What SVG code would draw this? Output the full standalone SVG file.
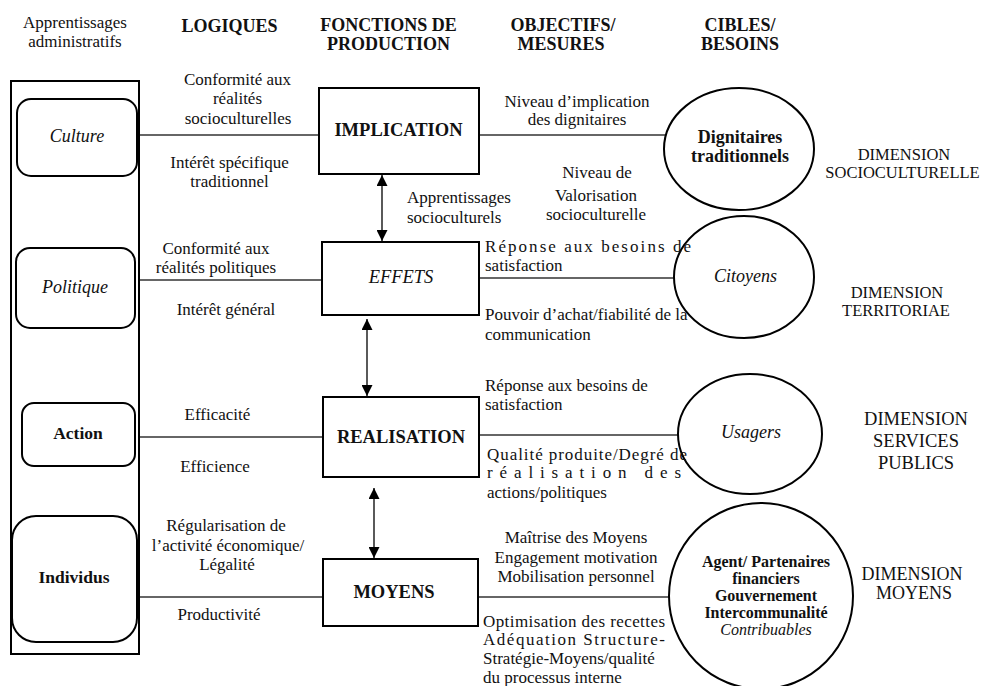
<svg xmlns="http://www.w3.org/2000/svg" width="985" height="686" viewBox="0 0 985 686">
<defs>
<marker id="ah" viewBox="0 0 10 10" refX="10" refY="5" markerWidth="11" markerHeight="11" markerUnits="userSpaceOnUse" orient="auto-start-reverse">
<path d="M0,0 L10,5 L0,10 z" fill="#000"/>
</marker>
<style>
.h{font-size:18px;font-weight:bold;text-anchor:middle;}
.t{font-size:17px;}
.c{text-anchor:middle;}
.b{font-weight:bold;}
.i{font-style:italic;}
.box{fill:#fff;stroke:#000;stroke-width:2;}
.rr{fill:#fff;stroke:#000;stroke-width:2;}
.el{fill:none;stroke:#000;stroke-width:2;}
.ln{stroke:#333;stroke-width:1.3;fill:none;}
.ar{stroke:#000;stroke-width:1.3;fill:none;marker-start:url(#ah);marker-end:url(#ah);}
.lab{font-size:18.5px;text-anchor:middle;}
.dim{text-anchor:middle;}
</style>
</defs>
<rect width="985" height="686" fill="#fff"/>

<g font-family="'Times New Roman', 'Liberation Serif', Tinos, 'DejaVu Serif', serif" fill="#111">
<g id="headers">
<text class="t c" x="75" y="28">Apprentissages</text>
<text class="t c" x="75" y="47">administratifs</text>
<text class="h" x="229.5" y="32">LOGIQUES</text>
<text class="h" x="388.5" y="31">FONCTIONS DE</text>
<text class="h" x="388.5" y="50">PRODUCTION</text>
<text class="h" x="563" y="31">OBJECTIFS/</text>
<text class="h" x="561" y="50">MESURES</text>
<text class="h" x="740" y="31">CIBLES/</text>
<text class="h" x="740" y="50">BESOINS</text>
</g>

<g id="connectors">
<line class="ln" x1="139" y1="135" x2="319" y2="135"/>
<line class="ln" x1="479" y1="135" x2="666" y2="135"/>
<line class="ln" x1="135" y1="280" x2="322" y2="280"/>
<line class="ln" x1="479" y1="278" x2="675" y2="278"/>
<line class="ln" x1="135" y1="437" x2="323" y2="437"/>
<line class="ln" x1="479" y1="435" x2="678" y2="435"/>
<line class="ln" x1="137" y1="597" x2="323" y2="597"/>
<line class="ln" x1="478" y1="597" x2="670" y2="597"/>
<line class="ar" x1="382" y1="175" x2="382" y2="241"/>
<line class="ar" x1="367" y1="319" x2="367" y2="396"/>
<line class="ar" x1="374" y1="488" x2="374" y2="558"/>
</g>

<g id="admin-frame">
<rect x="11" y="81" width="128" height="573" fill="#fff" stroke="#000" stroke-width="2"/>
</g>
<g id="culture">
<rect class="rr" x="17" y="99" width="120" height="77" rx="14"/>
<text class="i c" x="77" y="142" font-size="18">Culture</text>
</g>
<g id="politique">
<rect class="rr" x="16" y="248" width="119" height="80" rx="14"/>
<text class="i c" x="75" y="293" font-size="18">Politique</text>
</g>
<g id="action">
<rect class="rr" x="22" y="403" width="113" height="63" rx="12"/>
<text class="b c" x="78" y="439" font-size="17.5">Action</text>
</g>
<g id="individus">
<rect class="rr" x="12" y="516" width="125" height="126" rx="24"/>
<text class="b c" x="74" y="583" font-size="17.5">Individus</text>
</g>

<g id="implication">
<rect class="box" x="319" y="88" width="160" height="86"/>
<text class="lab b" x="398.5" y="136">IMPLICATION</text>
</g>
<g id="effets">
<rect class="box" x="322" y="242" width="157" height="73"/>
<text class="lab i" x="401" y="283">EFFETS</text>
</g>
<g id="realisation">
<rect class="box" x="323" y="397" width="156" height="80"/>
<text class="lab b" x="401" y="443">REALISATION</text>
</g>
<g id="moyens">
<rect class="box" x="323" y="559" width="155" height="67"/>
<text class="lab b" x="394" y="598">MOYENS</text>
</g>

<g id="dignitaires">
<ellipse class="el" cx="739" cy="149" rx="75" ry="61"/>
<text class="b c" x="740" y="143" font-size="18">Dignitaires</text>
<text class="b c" x="740" y="162" font-size="18">traditionnels</text>
</g>
<g id="citoyens">
<ellipse class="el" cx="744" cy="277" rx="70" ry="61"/>
<text class="i c" x="745.5" y="282" font-size="18">Citoyens</text>
</g>
<g id="usagers">
<ellipse class="el" cx="750" cy="434" rx="72" ry="60"/>
<text class="i c" x="751" y="438" font-size="18">Usagers</text>
</g>
<g id="agents">
<ellipse class="el" cx="761" cy="596" rx="92" ry="93"/>
<text class="b c" x="766" y="567" font-size="16">Agent/ Partenaires</text>
<text class="b c" x="766" y="584" font-size="16">financiers</text>
<text class="b c" x="766" y="601" font-size="16">Gouvernement</text>
<text class="b c" x="766" y="618" font-size="16">Intercommunalité</text>
<text class="i c" x="766" y="635" font-size="16">Contribuables</text>
</g>

<g id="logiques-labels">
<text class="t c" x="237.5" y="85">Conformité aux</text>
<text class="t c" x="237.5" y="104">réalités</text>
<text class="t c" x="238" y="124">socioculturelles</text>
<text class="t c" x="229.5" y="168">Intérêt spécifique</text>
<text class="t c" x="229.5" y="187">traditionnel</text>
<text class="t c" x="216" y="254">Conformité aux</text>
<text class="t c" x="216" y="273">réalités politiques</text>
<text class="t c" x="226" y="315">Intérêt général</text>
<text class="t c" x="217.5" y="420">Efficacité</text>
<text class="t c" x="215" y="472">Efficience</text>
<text class="t c" x="226" y="531">Régularisation de</text>
<text class="t c" x="228" y="551">l’activité économique/</text>
<text class="t c" x="227" y="570">Légalité</text>
<text class="t c" x="219" y="620">Productivité</text>
</g>

<g id="apprentissages-label">
<text class="t" x="407" y="203">Apprentissages</text>
<text class="t" x="407" y="223">socioculturels</text>
</g>

<g id="objectifs-labels">
<text class="t c" x="577" y="107">Niveau d’implication</text>
<text class="t c" x="577" y="125">des dignitaires</text>
<text class="t c" x="597" y="178">Niveau de</text>
<text class="t c" x="596" y="201">Valorisation</text>
<text class="t c" x="596" y="220">socioculturelle</text>
<text class="t" x="485" y="252" textLength="206" lengthAdjust="spacing">Réponse aux besoins de</text>
<text class="t" x="485" y="271">satisfaction</text>
<text class="t" x="485" y="320">Pouvoir d’achat/fiabilité de la</text>
<text class="t" x="485" y="340">communication</text>
<text class="t" x="485" y="391">Réponse aux besoins de</text>
<text class="t" x="485" y="410">satisfaction</text>
<text class="t" x="487" y="460" textLength="200" lengthAdjust="spacing">Qualité produite/Degré de</text>
<text class="t" x="487" y="478" textLength="194" lengthAdjust="spacing">réalisation des</text>
<text class="t" x="487" y="498">actions/politiques</text>
<text class="t c" x="576" y="543">Maîtrise des Moyens</text>
<text class="t c" x="576" y="563">Engagement motivation</text>
<text class="t c" x="576" y="582">Mobilisation personnel</text>
<text class="t" x="483" y="627" textLength="182" lengthAdjust="spacing">Optimisation des recettes</text>
<text class="t" x="483" y="645" textLength="182" lengthAdjust="spacing">Adéquation Structure-</text>
<text class="t" x="483" y="664">Stratégie-Moyens/qualité</text>
<text class="t" x="483" y="683">du processus interne</text>
</g>

<g id="dimensions">
<text class="dim" x="904" y="160" font-size="16.5">DIMENSION</text>
<text class="dim" x="902.5" y="178" font-size="16.5">SOCIOCULTURELLE</text>
<text class="dim" x="897" y="298" font-size="16.5">DIMENSION</text>
<text class="dim" x="896" y="316" font-size="16.5">TERRITORIAE</text>
<text class="dim" x="916" y="425" font-size="18.5">DIMENSION</text>
<text class="dim" x="916" y="447" font-size="18.5">SERVICES</text>
<text class="dim" x="916" y="469" font-size="18.5">PUBLICS</text>
<text class="dim" x="912" y="580" font-size="18">DIMENSION</text>
<text class="dim" x="914" y="599" font-size="18">MOYENS</text>
</g>
</g>
</svg>
